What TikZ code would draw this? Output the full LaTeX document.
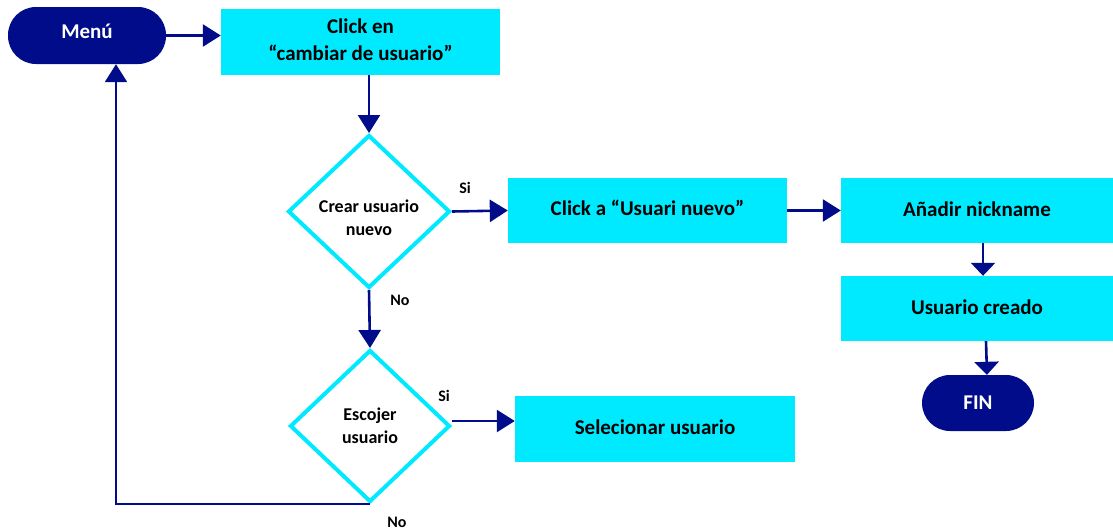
\documentclass[tikz,border=0pt]{standalone}
\usepackage{fontspec}
\setmainfont{Carlito}
\usetikzlibrary{arrows.meta,shapes.geometric}
\definecolor{navy}{RGB}{0,12,138}
\definecolor{aqua}{RGB}{0,234,255}
\tikzset{
  base/.style={font=\fontsize{21}{27}\selectfont\bfseries, align=center, inner sep=0pt},
  pill/.style={base, fill=navy, text=white, rounded corners=28pt},
  proc/.style={base, fill=aqua, text=black},
  decision/.style={diamond, draw=aqua, line width=4pt, fill=white, inner sep=0pt},
  dtext/.style={base, font=\fontsize{18}{23}\selectfont\bfseries},
  flow/.style={draw=navy, line width=2.6pt, -{Triangle[length=18pt,width=22pt]}},
  flowsm/.style={draw=navy, line width=2.6pt, -{Triangle[length=13pt,width=24pt]}},
  lbl/.style={font=\fontsize{16}{18}\selectfont\bfseries, inner sep=0pt},
}
\begin{document}
\begin{tikzpicture}[x=1pt,y=-1pt]
\useasboundingbox (0,0) rectangle (1113,530);

% nodes
\node[pill, minimum width=158pt, minimum height=57pt] (menu) at (87,35.5) {};
\node[base, text=white] (menut) at (87,31) {Menú};
\node[proc, minimum width=279pt, minimum height=66pt] (click) at (360.5,42) {};
\node[base] (clickt) at (360.5,40) {Click en\\“cambiar de usuario”};
\node[decision, minimum width=162pt, minimum height=153pt] (d1) at (369,211.5) {};
\node[dtext] (d1t) at (369,218) {Crear usuario\\nuevo};
\node[proc, minimum width=279pt, minimum height=65pt] (nuevo) at (647.5,210.5) {};
\node[base] (nuevot) at (647.5,208) {Click a “Usuari nuevo”};
\node[proc, minimum width=272pt, minimum height=65pt] (nick) at (977,210.5) {};
\node[base] (nickt) at (977,209) {Añadir nickname};
\node[proc, minimum width=272pt, minimum height=65pt] (creado) at (977,308.5) {};
\node[base] (creadot) at (977,307) {Usuario creado};
\node[pill, minimum width=112pt, minimum height=56pt] (fin) at (978,403) {FIN};
\node[decision, minimum width=160pt, minimum height=152pt] (d2) at (370,426) {};
\node[dtext] (d2t) at (370,426) {Escojer\\usuario};
\node[proc, minimum width=280pt, minimum height=66pt] (sel) at (655,429) {};
\node[base] (selt) at (655,427) {Selecionar usuario};

% connectors
\draw[flow] (menu.east) -- (menu.east -| click.west);
\draw[flow] (d1.north |- click.south) -- (d1.north);
\draw[flow] (d1.east) -- (nuevo.west);
\draw[flow] (nuevo.east) -- (nick.west);
\draw[flowsm] ([xshift=6pt]nick.south) -- ([xshift=6pt]creado.north);
\draw[flowsm] ([xshift=9pt]creado.south) -- ([xshift=9pt]fin.north);
\draw[flow] (d1.south) -- (d2.north);
\draw[flow] ([yshift=5pt]d2.east) -- ([yshift=5pt]d2.east -| sel.west);
\coordinate (back) at ([xshift=29pt]menu.south);
\draw[flow] (d2.south) -| (back);

% branch labels
\node[lbl] (si1) at (465,188) {Si};
\node[lbl] (no1) at (400,300) {No};
\node[lbl] (si2) at (444,396) {Si};
\node[lbl] (no2) at (397,522) {No};
\end{tikzpicture}
\end{document}
